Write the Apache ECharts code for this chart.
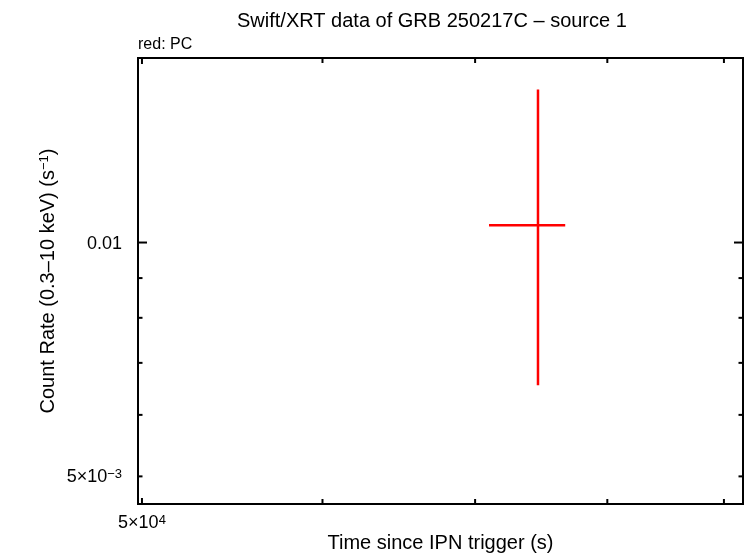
<!DOCTYPE html>
<html><head><meta charset="utf-8">
<script src="https://cdn.jsdelivr.net/npm/echarts@6/dist/echarts.min.js"></script>
<style>html,body{margin:0;padding:0;background:#fff}#c{width:746px;height:558px}</style>
</head><body><div id="c"></div>
<script>
// ---- text ----
const titleText = 'Swift/XRT data of GRB 250217C – source 1';
const legendText = 'red: PC';
const xName = 'Time since IPN trigger (s)';
const yName = 'Count Rate (0.3–10 keV) (s{sup|−1})';

// ---- axis ranges & ticks ----
const xRange = [49800, 91750];
const yRange = [0.004607, 0.01728];
const xMajorTicks = [50000];
const xMinorTicks = [60000, 70000, 80000, 90000];
const yMajorTicks = [0.01];
const yMinorTicks = [0.005, 0.006, 0.007, 0.008, 0.009];
const xLabelValues = [50000];
const xLabelTexts = ['5×10{sup|4}'];
const yLabelValues = [0.01, 0.005];
const yLabelTexts = ['0.01', '5×10{sup|−3}'];

// ---- data (PC mode) ----
const pcTime = [74590];
const pcTimeLo = [70990];
const pcTimeHi = [76670];
const pcRate = [0.010523];
const pcRateLo = [0.006552];
const pcRateHi = [0.015740];

const FONT = 'Liberation Sans';
const chart = echarts.init(document.getElementById('c'), null, {renderer: 'canvas'});

const pcData = pcTime.map((t, i) => [t, pcRate[i], pcTimeLo[i], pcTimeHi[i], pcRateLo[i], pcRateHi[i]]);
const xTickData = xMajorTicks.map(v => [v, yRange[0], 1]).concat(xMinorTicks.map(v => [v, yRange[0], 0]));
const yTickData = yMajorTicks.map(v => [xRange[0], v, 1]).concat(yMinorTicks.map(v => [xRange[0], v, 0]));
const xLabData = xLabelValues.map((v, i) => [v, yRange[0], i]);
const yLabData = yLabelValues.map((v, i) => [xRange[0], v, i]);
const supRich = {sup: {fontSize: 13, fontFamily: FONT, fill: '#000', verticalAlign: 'top', lineHeight: 18}};

const option = {
  backgroundColor: '#fff',
  animation: false,
  title: [
    {text: titleText, left: 232, top: 6, textStyle: {fontFamily: FONT, fontSize: 20, fontWeight: 'normal', color: '#000'}},
    {text: legendText, left: 133, top: 32, textStyle: {fontFamily: FONT, fontSize: 16, fontWeight: 'normal', color: '#000'}}
  ],
  grid: {left: 138, right: 3, top: 58, bottom: 52, show: true, borderColor: '#000', borderWidth: 2, backgroundColor: 'transparent'},
  xAxis: {
    type: 'log', logBase: 10, min: xRange[0], max: xRange[1],
    name: xName, nameLocation: 'middle', nameGap: 29,
    nameTextStyle: {fontFamily: FONT, fontSize: 20, color: '#000'},
    axisLine: {show: false}, axisTick: {show: false}, axisLabel: {show: false}, splitLine: {show: false}
  },
  yAxis: {
    type: 'log', logBase: 10, min: yRange[0], max: yRange[1],
    name: yName, nameLocation: 'middle', nameGap: 80,
    nameTextStyle: {fontFamily: FONT, fontSize: 20, color: '#000', rich: {sup: {fontSize: 13, fontFamily: FONT, color: '#000', verticalAlign: 'top'}}},
    axisLine: {show: false}, axisTick: {show: false}, axisLabel: {show: false}, splitLine: {show: false}
  },
  series: [
    {
      type: 'custom', name: 'xticks', data: xTickData, encode: {x: 0, y: 1}, silent: true, z: 3,
      renderItem: function (params, api) {
        const p = api.coord([api.value(0), api.value(1)]);
        const cs = params.coordSys;
        const len = api.value(2) ? 6 : 5;
        const st = {stroke: '#000', lineWidth: 2};
        return {type: 'group', children: [
          {type: 'line', shape: {x1: p[0], y1: cs.y + cs.height, x2: p[0], y2: cs.y + cs.height - len}, style: st},
          {type: 'line', shape: {x1: p[0], y1: cs.y, x2: p[0], y2: cs.y + len}, style: st}
        ]};
      }
    },
    {
      type: 'custom', name: 'yticks', data: yTickData, encode: {x: 0, y: 1}, silent: true, z: 3,
      renderItem: function (params, api) {
        const p = api.coord([api.value(0), api.value(1)]);
        const cs = params.coordSys;
        const len = api.value(2) ? 9 : 4.5;
        const st = {stroke: '#000', lineWidth: 2};
        return {type: 'group', children: [
          {type: 'line', shape: {x1: cs.x, y1: p[1], x2: cs.x + len, y2: p[1]}, style: st},
          {type: 'line', shape: {x1: cs.x + cs.width, y1: p[1], x2: cs.x + cs.width - len, y2: p[1]}, style: st}
        ]};
      }
    },
    {
      type: 'custom', name: 'xlabels', data: xLabData, encode: {x: 0, y: 1}, silent: true, z: 3,
      renderItem: function (params, api) {
        const p = api.coord([api.value(0), api.value(1)]);
        const cs = params.coordSys;
        return {type: 'text', x: p[0], y: cs.y + cs.height + 10,
          style: {text: xLabelTexts[api.value(2)], rich: supRich, fill: '#000', font: '18px "' + FONT + '"', align: 'center', verticalAlign: 'top'}};
      }
    },
    {
      type: 'custom', name: 'ylabels', data: yLabData, encode: {x: 0, y: 1}, silent: true, z: 3,
      renderItem: function (params, api) {
        const p = api.coord([api.value(0), api.value(1)]);
        const cs = params.coordSys;
        return {type: 'text', x: cs.x - 16, y: p[1] + 1,
          style: {text: yLabelTexts[api.value(2)], rich: supRich, fill: '#000', font: '18px "' + FONT + '"', align: 'right', verticalAlign: 'middle'}};
      }
    },
    {
      type: 'custom', name: 'PC', data: pcData, encode: {x: [0, 2, 3], y: [1, 4, 5]}, z: 5,
      renderItem: function (params, api) {
        const x = api.value(0), y = api.value(1);
        const c = api.coord([x, y]);
        const l = api.coord([api.value(2), y]);
        const r = api.coord([api.value(3), y]);
        const b = api.coord([x, api.value(4)]);
        const t = api.coord([x, api.value(5)]);
        const st = {stroke: '#ff0000', lineWidth: 2.5};
        return {type: 'group', children: [
          {type: 'line', shape: {x1: l[0], y1: c[1], x2: r[0], y2: c[1]}, style: st},
          {type: 'line', shape: {x1: c[0], y1: t[1], x2: c[0], y2: b[1]}, style: st}
        ]};
      }
    }
  ]
};
chart.setOption(option);
</script>
</body></html>
